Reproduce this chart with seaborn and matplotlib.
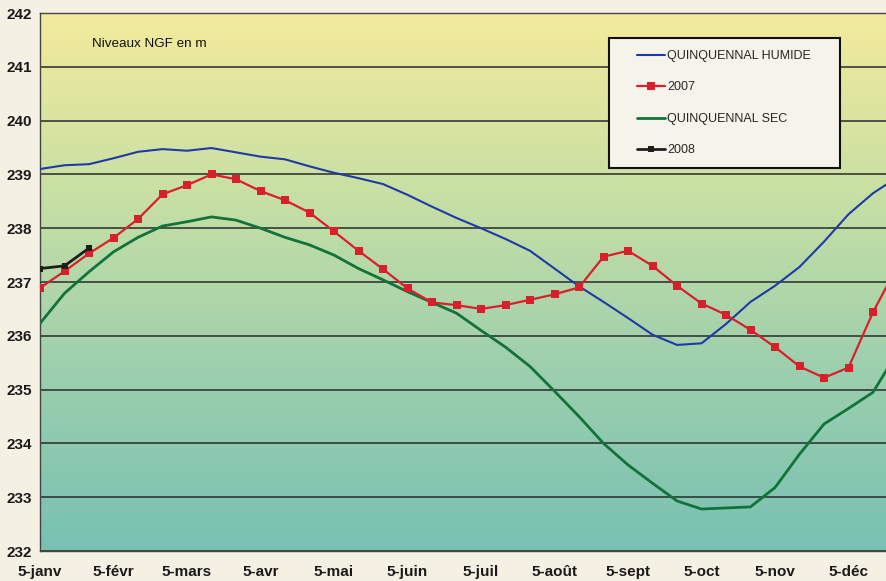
import numpy as np
import pandas as pd
import seaborn as sns
import matplotlib.pyplot as plt
from matplotlib.colors import LinearSegmentedColormap
from matplotlib.lines import Line2D
from matplotlib.legend_handler import HandlerLine2D

# Niveaux NGF (m), un point tous les 10 jours a partir du 5 janvier
humide = [239.10, 239.17, 239.19, 239.30, 239.42, 239.47, 239.44, 239.49, 239.41,
          239.33, 239.28, 239.15, 239.03, 238.93, 238.82, 238.62, 238.40, 238.19,
          238.00, 237.80, 237.58, 237.25, 236.92, 236.63, 236.33, 236.02, 235.83,
          235.86, 236.22, 236.63, 236.93, 237.28, 237.75, 238.26, 238.65, 238.95]
annee_2007 = [236.89, 237.20, 237.53, 237.82, 238.17, 238.63, 238.80, 239.00, 238.91,
              238.69, 238.52, 238.29, 237.94, 237.58, 237.24, 236.88, 236.62, 236.57,
              236.50, 236.57, 236.67, 236.77, 236.90, 237.47, 237.58, 237.30, 236.93,
              236.60, 236.39, 236.11, 235.79, 235.43, 235.22, 235.41, 236.44, 237.30]
sec = [236.23, 236.79, 237.19, 237.56, 237.83, 238.04, 238.12, 238.21, 238.15,
       238.00, 237.83, 237.69, 237.50, 237.25, 237.04, 236.82, 236.62, 236.42,
       236.10, 235.79, 235.43, 234.97, 234.50, 234.00, 233.60, 233.26, 232.93,
       232.78, 232.80, 232.82, 233.18, 233.80, 234.36, 234.65, 234.95, 235.70]
annee_2008 = [237.25, 237.30, 237.63]

mois = ["5-janv", "5-févr", "5-mars", "5-avr", "5-mai", "5-juin",
        "5-juil", "5-août", "5-sept", "5-oct", "5-nov", "5-déc"]

sns.set_style("white")
plt.rcParams['font.family'] = ['Liberation Sans', 'DejaVu Sans']

fig = plt.figure(figsize=(8.87, 5.81), dpi=100, facecolor="#f4f0e3")
ax = fig.add_axes([40 / 887, 30 / 581, 847 / 887, 538 / 581])

xmax = 34.57
# fond degrade jaune -> vert d'eau
cmap = LinearSegmentedColormap.from_list("fond", ["#78c1b2", "#9ccfae", "#c8e0a4", "#f3eb9c"])
grad = np.linspace(0, 1, 256).reshape(-1, 1)
ax.imshow(grad, extent=[0, xmax, 232, 242], origin="lower", aspect="auto", cmap=cmap, zorder=0)

x = np.arange(len(humide))
sns.lineplot(x=x, y=humide, ax=ax, color="#1f3aa6", linewidth=1.5, label="QUINQUENNAL HUMIDE", zorder=3)
sns.lineplot(x=x, y=annee_2007, ax=ax, color="#d8202c", linewidth=1.6, marker="s", markersize=6,
             markeredgewidth=0, label="2007", zorder=4)
sns.lineplot(x=x, y=sec, ax=ax, color="#12733a", linewidth=2.0, label="QUINQUENNAL SEC", zorder=3)
sns.lineplot(x=np.arange(len(annee_2008)), y=annee_2008, ax=ax, color="#1e1e1e", linewidth=2.0,
             marker="s", markersize=5, markeredgewidth=0, label="2008", zorder=5)

ax.set_xlim(0, xmax)
ax.set_ylim(232, 242)
ax.set_yticks(range(232, 243))
ax.set_xticks(np.arange(0, 36, 3))
ax.set_xticklabels(mois)
ax.set_xticks(np.arange(0, 35, 0.5), minor=True)
ax.set_axisbelow(True)
ax.grid(axis="y", color="#2a2a2a", linewidth=1.1)
ax.grid(axis="x", visible=False)

for s in ["left", "bottom", "top"]:
    ax.spines[s].set_color("#444444")
    ax.spines[s].set_linewidth(1.0)
ax.spines["right"].set_visible(False)

ax.tick_params(axis="y", direction="inout", length=6, width=1, color="#444444",
               labelsize=11, pad=3)
ax.tick_params(axis="x", which="both", direction="in", length=4, width=0.8, color="#555555",
               labelsize=11, pad=10)
for lab in ax.get_xticklabels() + ax.get_yticklabels():
    lab.set_fontweight("bold")
    lab.set_color("#1a1a1a")

ax.text(0.061, 0.942, "Niveaux NGF en m", transform=ax.transAxes, fontsize=9.7,
        va="center", ha="left", color="#111111")

leg = ax.legend(loc="upper left", bbox_to_anchor=(0.672, 0.9535, 0.2727, 0), mode="expand",
                fontsize=9, frameon=True, fancybox=False, handlelength=3.5, handletextpad=0.2,
                labelspacing=1.56, borderpad=0.95, borderaxespad=0,
                handler_map={Line2D: HandlerLine2D(xpad=1.3)})
leg.get_frame().set_edgecolor("#111111")
leg.get_frame().set_linewidth(1.5)
leg.get_frame().set_facecolor("#f6f3ea")
leg.get_frame().set_alpha(1)
leg.set_zorder(10)

fig.savefig("out.png", dpi=100, facecolor=fig.get_facecolor())
